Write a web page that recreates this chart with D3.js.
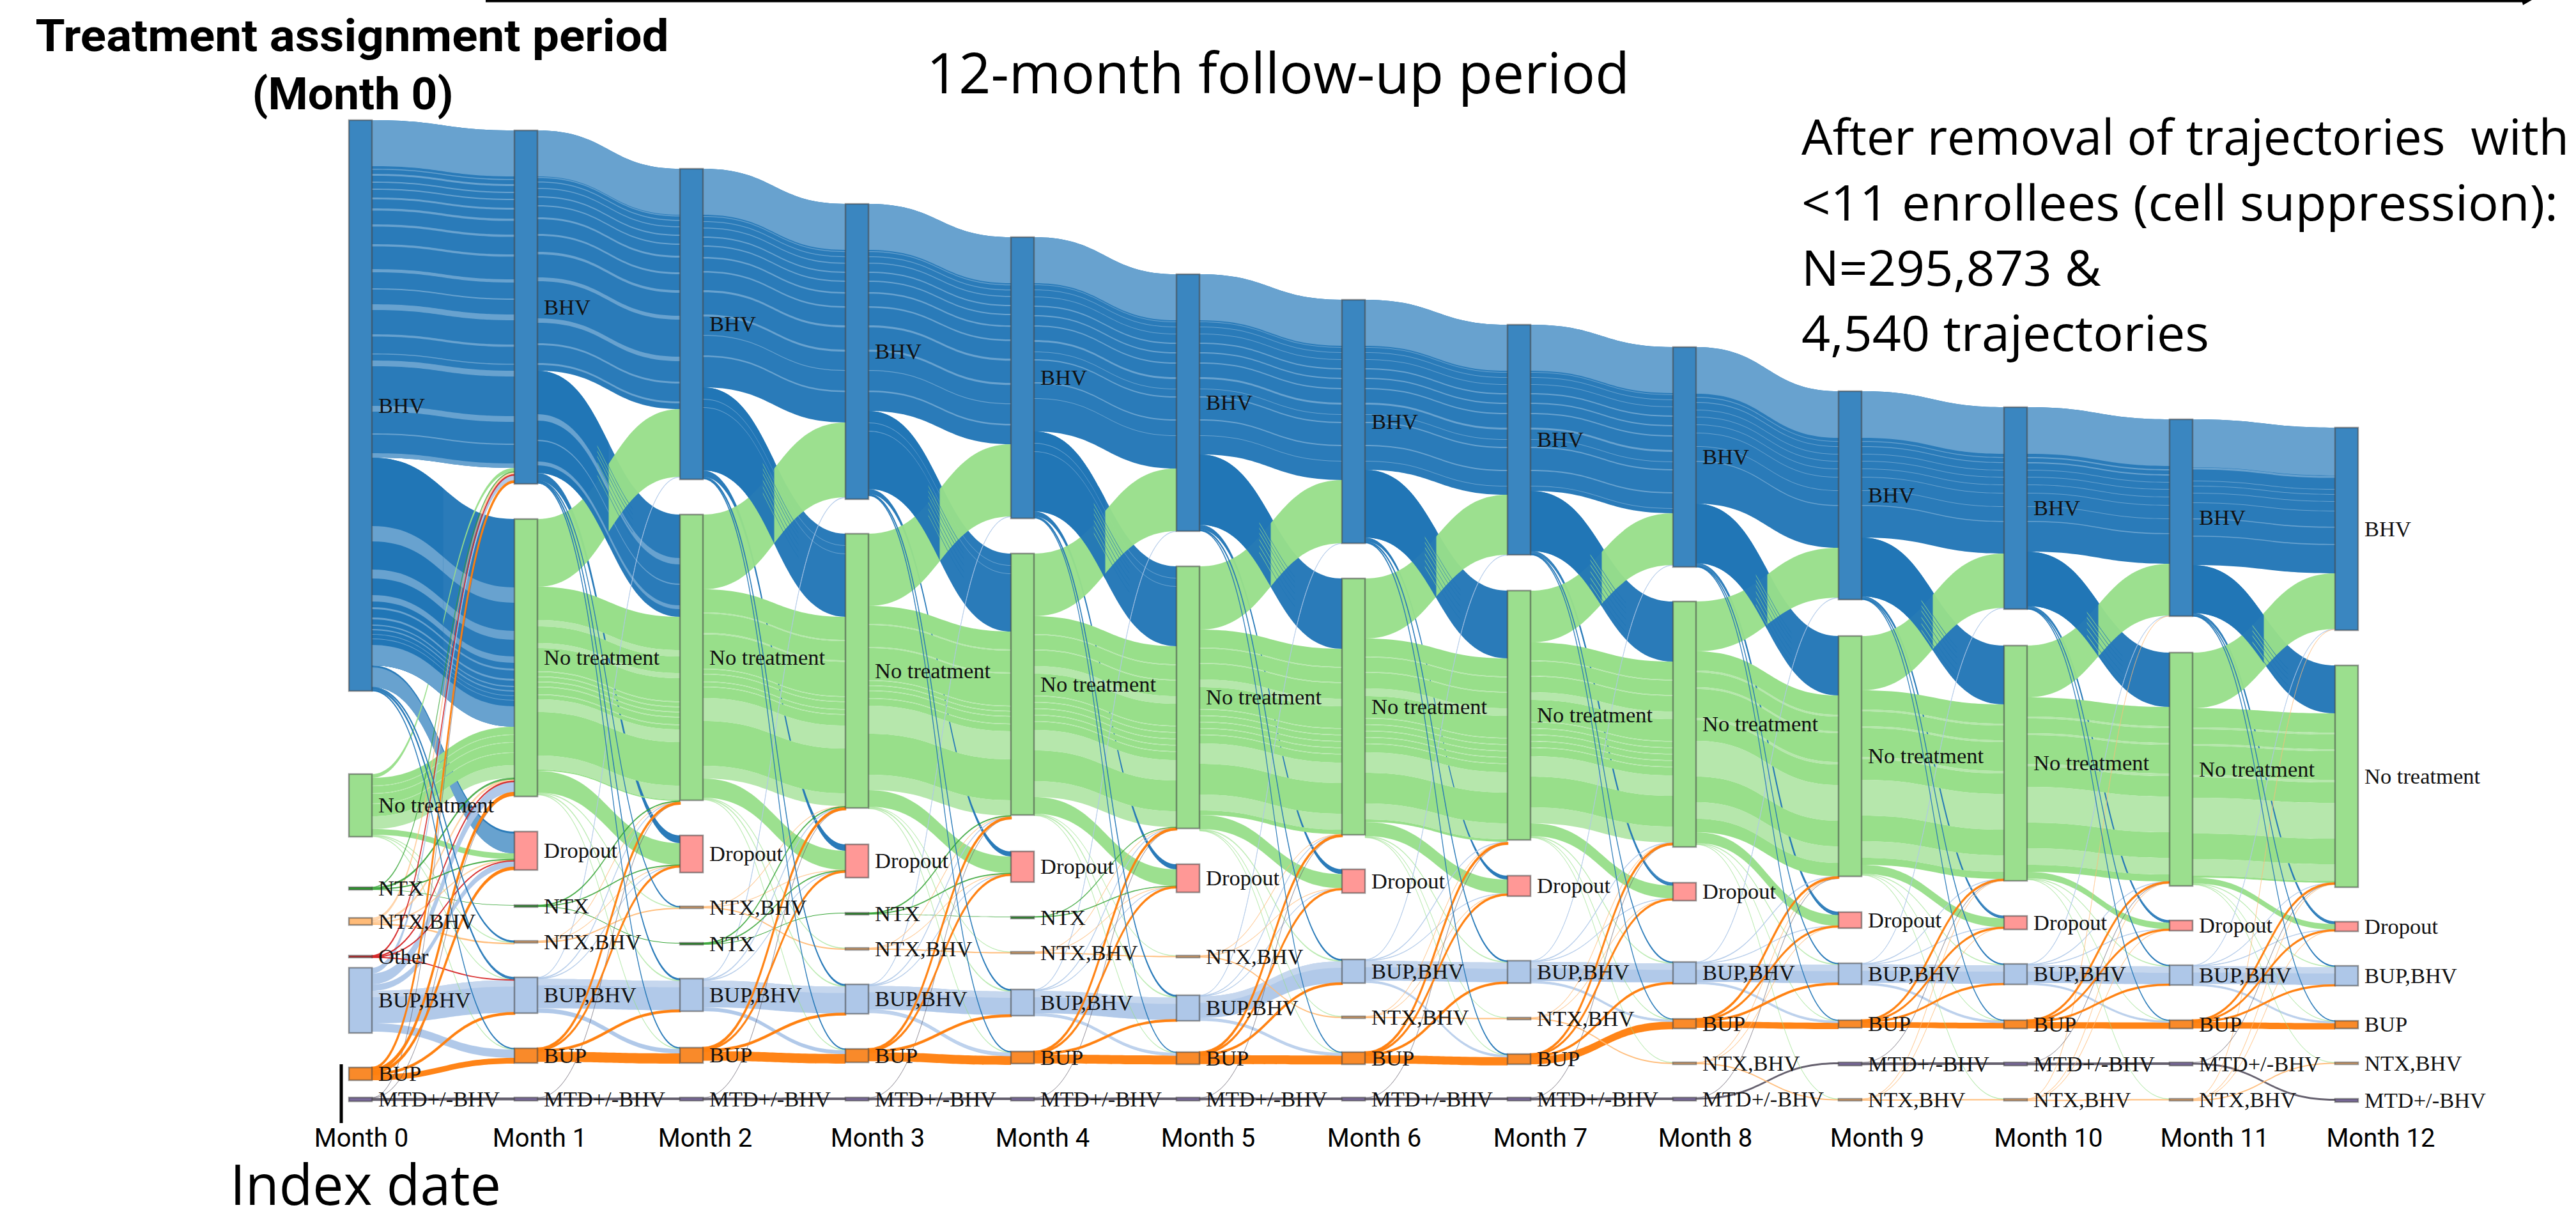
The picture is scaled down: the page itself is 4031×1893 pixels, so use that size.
<!DOCTYPE html>
<html>
<head>
<meta charset="utf-8">
<script src="https://cdn.jsdelivr.net/npm/d3@7"></script>
<style>
  body { margin: 0; background: #fff; }
  svg { display: block; }
  text { white-space: pre; }
</style>
</head>
<body>
<div id="chart"></div>
<script>
// All flow values below are thousands of enrollees
const months = ["Month 0", "Month 1", "Month 2", "Month 3", "Month 4", "Month 5", "Month 6",
    "Month 7", "Month 8", "Month 9", "Month 10", "Month 11", "Month 12"];

const categories = ["BHV", "No treatment", "Dropout", "NTX", "NTX,BHV", "Other", "BUP,BHV", "BUP", "MTD+/-BHV"];

// node start along the vertical value axis
const bhvStart = [47, 51, 66, 79.75, 92.75, 107.25, 117.25, 127, 135.75, 153, 159.25, 164, 167.25];
const noneStart = [302.75, 203, 201.25, 208.75, 216.5, 221.5, 226.25, 231, 235.25, 248.75, 252.5, 255.25, 260.25];
const dropoutStart = [null, 325.25, 326.75, 330.25, 333, 338, 340, 342.5, 345.25, 356.75, 358.25, 360, 360.5];
const ntxStart = [347, 354, 368.75, 357, 358.5, null, null, null, null, null, null, null, null];
const ntxBhvStart = [359, 368, 354.5, 370.75, 372.25, 373.75, 397.5, 398, 415.5, 429.75, 429.75, 429.75, 415.5];
const otherStart = [373.75, null, null, null, null, null, null, null, null, null, null, null, null];
const bupBhvStart = [378.5, 382.25, 382.75, 385, 387, 389.25, 375.25, 375.75, 376.25, 376.75, 377, 377.5, 377.75];
const bupStart = [417.5, 410, 409.75, 410.25, 411.25, 411.5, 411.5, 412.25, 398.5, 399, 399, 399, 399.25];
const mtdStart = [429.25, 429.25, 429.25, 429.25, 429.25, 429.25, 429.25, 429.25, 429.25, 415.5, 415.5, 415.5, 429.75];

// node totals per month
const bhvTotal = [223.25, 138.25, 121.5, 115.5, 110, 100.5, 95.25, 90, 86, 81.5, 79, 77, 79.25];
const noneTotal = [24.5, 108.5, 111.75, 107.25, 102.25, 102.5, 100.25, 97.5, 96, 94, 92, 91.25, 86.75];
const dropoutTotal = [0, 15, 14.5, 13, 12, 11, 9.25, 8, 7, 6.25, 5.25, 4, 3.75];
const ntxTotal = [1, 0.75, 0.75, 0.75, 0.75, 0, 0, 0, 0, 0, 0, 0, 0];
const ntxBhvTotal = [2.75, 0.75, 0.75, 0.75, 0.75, 0.75, 0.75, 0.75, 0.75, 0.75, 0.75, 0.75, 0.75];
const otherTotal = [0.75, 0, 0, 0, 0, 0, 0, 0, 0, 0, 0, 0, 0];
const bupBhvTotal = [25.5, 14, 12.75, 11.5, 10.25, 10, 9.25, 8.75, 8.5, 8.25, 8, 7.75, 7.75];
const bupTotal = [5, 5.75, 6, 5.25, 4.75, 4.75, 4.75, 4, 3.75, 3, 3.25, 3.25, 3];
const mtdTotal = [1.5, 1.25, 1.25, 1.25, 1.25, 1.25, 1.25, 1.25, 1.25, 1.25, 1.25, 1.25, 1.25];

// month to month flows, one value per transition
const bhvToBhv = [132, 94, 85.5, 81, 76, 70.5, 66.5, 65, 61.25, 57.25, 56.5, 57];
const bhvToNone = [81.25, 40, 32.5, 30.5, 31.25, 27.5, 26.5, 23.5, 23.25, 23, 21.25, 18.75];
const bhvToDropout = [8.5, 3, 2.5, 2, 2, 1.875, 1.5, 1.125, 1.125, 0.875, 0.875, 0.875];
const bhvToBupBhv = [0.75, 0.5, 0.5, 0.375, 0.5, 0.375, 0.375, 0.25, 0.25, 0.25, 0.25, 0.25];
const bhvToBup = [0.25, 0.25, 0.25, 0.25, 0.125, 0.125, 0.25, 0.125, 0.125, 0.125, 0.125, 0.125];
const bhvToNtxBhv = [0.5, 0.25, 0, 0, 0, 0, 0, 0, 0, 0, 0, 0];

const noneToBhv = [1.5, 26.5, 29.25, 28.25, 24.5, 24.75, 23.5, 20.25, 19.5, 21.25, 20.25, 21.75];
const noneToNone = [20, 72, 74, 72, 70.75, 72.5, 71.75, 70.75, 70.75, 68.25, 68.25, 66.25];
const noneToDropout = [2.25, 8.5, 7.5, 6.5, 6.5, 5.5, 5.5, 5, 4.25, 3.5, 2.5, 2.25];
const noneToBupBhv = [0.25, 0.4, 0.4, 0.4, 0.4, 0.4, 0.3, 0.3, 0.3, 0.25, 0.25, 0.25];
const noneToBup = [0.25, 0.25, 0.25, 0.25, 0.2, 0.2, 0.2, 0.2, 0.15, 0.15, 0.15, 0.15];
const noneToNtxBhv = [0.25, 0.3, 0.25, 0.15, 0.15, 0.15, 0.15, 0.15, 0.15, 0.15, 0.15, 0.15];

const bupBhvToBhv = [2.25, 0.15, 0.2, 0.15, 0.15, 0.1, 0.15, 0.1, 0.15, 0.1, 0.15, 0.1];
const bupBhvToNone = [4.25, 0.3, 0.35, 0.3, 0.25, 0.2, 0.25, 0.25, 0.25, 0.2, 0.2, 0.15];
const bupBhvToDropout = [2.5, 0.2, 0.2, 0.2, 0.15, 0.15, 0.15, 0.15, 0.15, 0.15, 0.15, 0.15];
const bupBhvToBupBhv = [12.75, 11.5, 10.5, 9.25, 8.75, 8.5, 7.75, 7.5, 7.25, 7.25, 7, 7];
const bupBhvToBup = [3.25, 1.75, 1.5, 1.25, 1, 1, 0.75, 0.75, 0.75, 0.75, 0.625, 0.625];

const bupToBhv = [0.5, 0, 0, 0, 0, 0, 0, 0, 0, 0, 0, 0];
const bupToNone = [1, 0.5, 0.6, 0.5, 0.5, 0.5, 0.5, 0.4, 0.4, 0.3, 0.3, 0.3];
const bupToDropout = [0.75, 0.3, 0.3, 0.3, 0.3, 0.3, 0.3, 0.25, 0.25, 0.2, 0.2, 0.2];
const bupToBupBhv = [0.5, 0.5, 0.5, 0.5, 0.4, 0.4, 0.4, 0.375, 0.375, 0.25, 0.25, 0.25];
const bupToBup = [2.25, 4, 3.75, 3.5, 3.5, 3.5, 3.25, 3, 2.5, 2.25, 2.5, 2.5];

const ntxToBhv = [0.125, 0, 0, 0, 0, 0, 0, 0, 0, 0, 0, 0];
const ntxToNone = [0.5, 0.25, 0.25, 0.25, 0.125, 0, 0, 0, 0, 0, 0, 0];
const ntxToDropout = [0.25, 0.2, 0.2, 0.2, 0.125, 0, 0, 0, 0, 0, 0, 0];
const ntxToNtx = [0.2, 0.25, 0.25, 0.2, 0, 0, 0, 0, 0, 0, 0, 0];

const ntxBhvToBhv = [1, 0, 0, 0, 0, 0, 0, 0, 0, 0, 0.1, 0.1];
const ntxBhvToNone = [0.75, 0.15, 0.15, 0.15, 0.15, 0.15, 0.15, 0.15, 0.15, 0.15, 0.15, 0.15];
const ntxBhvToDropout = [0.375, 0.125, 0.125, 0.125, 0.125, 0.125, 0.125, 0.125, 0.125, 0.125, 0.125, 0.125];
const ntxBhvToNtxBhv = [0.6, 0.5, 0.5, 0.5, 0.5, 0.5, 0.5, 0.5, 0.5, 0.5, 0.5, 0.5];

const otherToBhv = [0.25, 0, 0, 0, 0, 0, 0, 0, 0, 0, 0, 0];
const otherToNone = [0.25, 0, 0, 0, 0, 0, 0, 0, 0, 0, 0, 0];
const otherToDropout = [0.15, 0, 0, 0, 0, 0, 0, 0, 0, 0, 0, 0];
const otherToBupBhv = [0.1, 0, 0, 0, 0, 0, 0, 0, 0, 0, 0, 0];

const mtdToBhv = [0.1, 0, 0, 0, 0, 0, 0, 0, 0, 0, 0, 0];
const mtdToNone = [0.1, 0.1, 0.1, 0.1, 0.1, 0.1, 0.1, 0.1, 0.1, 0.1, 0.1, 0.1];
const mtdToMtd = [1.1, 1, 1, 1, 1, 1, 1, 1, 0.75, 1, 1, 0.75];

// lighter trajectories inside the big flows: [offset in flow, size]
const bhvStay0 = [[0, 18], [19, 0.4], [21, 0.75], [24, 0.5], [26.75, 0.5], [30.25, 0.75], [34.5, 0.9], [40.75, 0.9], [48.5, 0.9], [58.25, 1.25], [65.75, 0.5], [72, 2.25], [83.75, 0.9], [91.25, 0.4], [94, 2.25], [111.75, 2.25], [122.5, 0.5], [130.25, 1.75]];
const bhvStay1 = [[0, 18], [18.25, 0.4], [20, 0.4], [22.5, 0.4], [25.75, 0.5], [29.25, 0.5], [34, 0.75], [40.5, 0.75], [47.5, 1], [57.5, 1.5], [73.5, 1.75], [83.25, 0.75], [91, 0.75]];
const bhvStay2 = [[0, 18], [18.5, 0.3], [20.5, 0.3], [23, 0.4], [26.5, 0.5], [30, 0.5], [34.5, 0.6], [40, 0.6], [47.5, 0.8], [57, 0.8], [65, 0.3], [73, 0.6]];
const bhvStay4 = [[0, 18], [18.5, 0.25], [20.5, 0.25], [23.25, 0.25], [26.75, 0.5], [30.5, 0.5], [34.5, 0.5], [40.25, 0.75], [44.75, 0.25], [47.75, 0.5], [56.75, 0.5], [63, 0.25]];
const bhvStay8 = [[0, 18.25], [19.5, 0.3], [21.5, 0.3], [24.5, 0.25], [27.25, 0.25], [30.25, 0.25], [33.5, 0.25], [38.75, 0.25], [44.5, 0.4]];
const bhvStay10 = [[0, 18.25], [19.5, 0.5], [21.5, 0.5], [24.5, 0.25], [27.25, 0.25], [30.25, 0.25], [33.5, 0.25], [38.75, 0.25], [44.5, 0.4]];
const bhvStay11 = [[0, 18.75], [18.9, 0.75], [24, 0.25], [26, 0.25], [28.75, 0.25], [32.5, 0.25], [38.75, 0.4], [45.5, 0.4]];
const bhvLeave0 = [[26.75, 6], [43.75, 3.5], [53.75, 2.5], [58.5, 0.75], [62.5, 0.75], [65.25, 0.5], [67, 0.5], [69, 0.25], [70.75, 0.25], [73.25, 8]];
const bhvLeave1 = [[17, 2.5], [27, 0.5], [35.5, 1.5]];
const bhvLeave2 = [[4.5, 0.25], [7.75, 0.25]];
const dropoutLeave0 = [[0.75, 7.75]];
const noneStay0 = [[3, 0.25], [6, 0.25], [10, 0.25], [15, 5]];
const noneStay1 = [[13, 2.5], [22, 2], [33, 0.4], [35, 0.4], [37, 0.4], [39, 0.4], [42, 0.4], [44, 5], [66, 5.5]];
const noneStay2 = [[9, 0.5], [17, 0.6], [31, 0.3], [33, 0.3], [36, 0.3], [38, 0.3], [42.5, 9], [69, 5]];
const noneStay3 = [[7, 0.5], [16, 0.5], [29, 0.3], [31, 0.3], [33, 0.3], [36, 0.3], [39, 11], [66, 6]];
const noneStay4 = [[7, 0.4], [13, 0.4], [19.5, 3], [31, 0.3], [33.5, 0.3], [36, 0.3], [38.5, 0.3], [41, 0.3], [44.5, 8], [64.5, 6.25]];
const noneStay8 = [[7.5, 0.75], [14, 0.75], [26, 1], [35, 14], [59, 6.5]];
const bupBhvStay = [[0, 2.5]];

const bhvStayBands = [bhvStay0, bhvStay1, bhvStay2, bhvStay2, bhvStay4, bhvStay4, bhvStay4, bhvStay4, bhvStay8, bhvStay8, bhvStay10, bhvStay11];
const bhvLeaveBands = [bhvLeave0, bhvLeave1, bhvLeave2, bhvLeave2, bhvLeave2, [], [], [], [], [], [], []];
const dropoutBands = [dropoutLeave0, [], [], [], [], [], [], [], [], [], [], []];
const noneStayBands = [noneStay0, noneStay1, noneStay2, noneStay3, noneStay4, noneStay4, noneStay4, noneStay4, noneStay8, noneStay8, noneStay8, noneStay8];
const bupBhvBands = months.slice(1).map(() => bupBhvStay);

// small strands of the crossing flows, offset inside the BHV to No treatment flow
const crossingStrands = [9, 11, 13, 15.5, 18, 20.5];

// Layout
const width = 4031, height = 1893;
const nodeWidth = 36;
const x = d3.scalePoint().domain(months).range([546, 3654]);
const y = d3.scaleLinear().domain([0, 473.25]).range([0, height]);
const size = v => y(v) - y(0);

const color = d3.scaleOrdinal()
    .domain(categories)
    .range(["#2176b6", "#98df8a", "#ff9896", "#2ca02c", "#ffbb78", "#d62728", "#aec7e8", "#ff7f0e", "#5f5a68"]);
const nodeColor = d3.scaleOrdinal()
    .domain(categories)
    .range(["#3a86c0", "#9bdf8e", "#ff9896", "#2ca02c", "#ffbb78", "#d62728", "#aec7e8", "#f98a2a", "#7a6a9b"]);
const bandColor = { "BHV": "#68a2cf", "No treatment": "#b6e7ac", "BUP,BHV": "#c6d7ee" };
const thinStroke = { "BUP": 2.5, "BHV": 1.2, "No treatment": 0.6, "BUP,BHV": 0.9, "NTX,BHV": 0.8, "NTX": 1.2, "Other": 1.5, "MTD+/-BHV": 0.7 };
const thinOpacity = { "BUP": 0.95, "BHV": 0.9, "No treatment": 0.6, "BUP,BHV": 0.8, "NTX,BHV": 0.6, "NTX": 0.7, "Other": 0.9, "MTD+/-BHV": 0.5 };

const nodeStart = { "BHV": bhvStart, "No treatment": noneStart, "Dropout": dropoutStart, "NTX": ntxStart, "NTX,BHV": ntxBhvStart, "Other": otherStart, "BUP,BHV": bupBhvStart, "BUP": bupStart, "MTD+/-BHV": mtdStart };
const nodeTotal = { "BHV": bhvTotal, "No treatment": noneTotal, "Dropout": dropoutTotal, "NTX": ntxTotal, "NTX,BHV": ntxBhvTotal, "Other": otherTotal, "BUP,BHV": bupBhvTotal, "BUP": bupTotal, "MTD+/-BHV": mtdTotal };

// order matters: first ones are painted first
const flowTable = [
    ["BHV", "Dropout", bhvToDropout, dropoutBands],
    ["BHV", "BHV", bhvToBhv, bhvStayBands],
    ["No treatment", "No treatment", noneToNone, noneStayBands],
    ["BUP,BHV", "BUP,BHV", bupBhvToBupBhv, bupBhvBands],
    ["BUP", "BUP", bupToBup],
    ["MTD+/-BHV", "MTD+/-BHV", mtdToMtd],
    ["BHV", "No treatment", bhvToNone, bhvLeaveBands],
    ["No treatment", "BHV", noneToBhv],
    ["BUP,BHV", "BUP", bupBhvToBup],
    ["No treatment", "Dropout", noneToDropout],
    ["NTX,BHV", "NTX,BHV", ntxBhvToNtxBhv],
    ["NTX", "NTX", ntxToNtx],
    ["No treatment", "BUP,BHV", noneToBupBhv],
    ["No treatment", "BUP", noneToBup],
    ["No treatment", "NTX,BHV", noneToNtxBhv],
    ["BUP,BHV", "BHV", bupBhvToBhv],
    ["BUP,BHV", "No treatment", bupBhvToNone],
    ["BUP,BHV", "Dropout", bupBhvToDropout],
    ["NTX,BHV", "BHV", ntxBhvToBhv],
    ["NTX,BHV", "No treatment", ntxBhvToNone],
    ["NTX,BHV", "Dropout", ntxBhvToDropout],
    ["NTX", "BHV", ntxToBhv],
    ["NTX", "No treatment", ntxToNone],
    ["NTX", "Dropout", ntxToDropout],
    ["Other", "BHV", otherToBhv],
    ["Other", "No treatment", otherToNone],
    ["Other", "Dropout", otherToDropout],
    ["Other", "BUP,BHV", otherToBupBhv],
    ["MTD+/-BHV", "BHV", mtdToBhv],
    ["MTD+/-BHV", "No treatment", mtdToNone],
    ["BUP", "BHV", bupToBhv],
    ["BUP", "No treatment", bupToNone],
    ["BUP", "Dropout", bupToDropout],
    ["BUP", "BUP,BHV", bupToBupBhv],
    ["BHV", "BUP,BHV", bhvToBupBhv],
    ["BHV", "BUP", bhvToBup],
    ["BHV", "NTX,BHV", bhvToNtxBhv]
];

// one record per link, with its stack position at both ends
const links = [];
flowTable.forEach(([from, to, values, bands], order) => {
    values.forEach((value, t) => {
        if (value > 0) links.push({ from, to, value, t, order, bands: bands ? bands[t] : [] });
    });
});

months.slice(0, -1).forEach((m, t) => {
    const here = links.filter(l => l.t === t);
    d3.groups(here, l => l.from).forEach(([name, out]) => {
        let pos = nodeStart[name][t];
        out.sort((a, b) => d3.ascending(nodeStart[a.to][t + 1], nodeStart[b.to][t + 1]))
            .forEach(l => { l.sy = pos; pos += l.value; });
    });
    d3.groups(here, l => l.to).forEach(([name, inc]) => {
        let pos = nodeStart[name][t + 1];
        inc.sort((a, b) => d3.ascending(nodeStart[a.from][t], nodeStart[b.from][t]))
            .forEach(l => { l.ty = pos; pos += l.value; });
    });
});

const ribbon = d3.area().curve(d3.curveBumpX)
    .x(d => d.x).y0(d => d.y0).y1(d => d.y1);

function ribbonPath(l, offset, amount) {
    const x0 = x(months[l.t]) + nodeWidth, x1 = x(months[l.t + 1]);
    return ribbon([
        { x: x0, y0: y(l.sy + offset), y1: y(l.sy + offset + amount) },
        { x: x1, y0: y(l.ty + offset), y1: y(l.ty + offset + amount) }
    ]);
}

const svg = d3.select("#chart").append("svg").attr("width", width).attr("height", height);

function drawBands(parent, l) {
    l.bands.filter(b => b[0] < l.value).forEach(b => {
        parent.append("path")
            .attr("d", ribbonPath(l, b[0], Math.min(b[1], l.value - b[0])))
            .attr("fill", bandColor[l.from]);
    });
}

function drawLink(parent, l) {
    const path = parent.append("path").attr("d", ribbonPath(l, 0, l.value))
        .attr("fill", color(l.from)).attr("fill-opacity", 0.96);
    // arcs this thin need a hairline or they vanish where they run steep
    if (l.value < 1.5 && l.from !== l.to) {
        path.attr("fill-opacity", thinOpacity[l.from])
            .attr("stroke", color(l.from)).attr("stroke-opacity", thinOpacity[l.from])
            .attr("stroke-width", thinStroke[l.from]);
    }
    drawBands(parent, l);
}

// the solid parts of a flow between its lighter bands, strands under it show through those
function drawSolidParts(parent, l) {
    let pos = 0;
    l.bands.forEach(b => {
        if (b[0] > pos) {
            parent.append("path").attr("d", ribbonPath(l, pos, b[0] - pos)).attr("fill", color(l.from));
        }
        pos = b[0] + b[1];
    });
    if (pos < l.value) {
        parent.append("path").attr("d", ribbonPath(l, pos, l.value - pos)).attr("fill", color(l.from));
    }
}

links.sort((a, b) => d3.ascending(a.order, b.order));

const linkLayer = svg.append("g");
const defs = svg.append("defs");
months.slice(0, -1).forEach((m, t) => {
    const x0 = x(m) + nodeWidth, x1 = x(months[t + 1]);
    const step = x1 - x0, mid = x0 + step / 2;
    defs.append("clipPath").attr("id", "leftHalf" + t)
        .append("rect").attr("x", x0).attr("y", 0).attr("width", step / 2).attr("height", height);
    defs.append("clipPath").attr("id", "leftEdge" + t)
        .append("rect").attr("x", mid - step * 0.08).attr("y", 0).attr("width", step * 0.08).attr("height", height);
    defs.append("clipPath").attr("id", "rightEdge" + t)
        .append("rect").attr("x", mid).attr("y", 0).attr("width", step * 0.17).attr("height", height);
});

// lighter No treatment bands go first so BHV strands stay visible through them
links.filter(l => l.from === "No treatment" && l.to === "No treatment")
    .forEach(l => drawBands(linkLayer, l));

flowTable.forEach(([from, to], order) => {
    links.filter(l => l.order === order).forEach(l => {
        if (from === "No treatment" && to === "No treatment") drawSolidParts(linkLayer, l);
        else drawLink(linkLayer, l);
    });
    // blue leaving BHV shows over the green coming back on the left half of each crossing
    if (from === "No treatment" && to === "BHV") {
        const leaving = links.filter(l => l.from === "BHV" && l.to === "No treatment");
        leaving.forEach(l => {
            drawLink(linkLayer.append("g").attr("clip-path", `url(#leftHalf${l.t})`), l);
        });
        leaving.filter(l => l.t > 0).forEach(l => {
            const blue = linkLayer.append("g").attr("clip-path", `url(#rightEdge${l.t})`);
            const green = linkLayer.append("g").attr("clip-path", `url(#leftEdge${l.t})`);
            crossingStrands.filter(s => s < l.value).forEach(s => {
                blue.append("path").attr("d", ribbonPath(l, s, 0.3)).attr("fill", color("BHV"));
                green.append("path").attr("d", ribbonPath(l, s + 1, 0.3)).attr("fill", color("No treatment"));
            });
        });
    }
});

// nodes and their labels
const nodes = [];
categories.forEach(name => {
    months.forEach((m, i) => {
        if (nodeStart[name][i] !== null) nodes.push({ name, month: m, start: nodeStart[name][i], total: nodeTotal[name][i] });
    });
});

svg.append("g").selectAll("rect").data(nodes).join("rect")
    .attr("x", d => x(d.month))
    .attr("y", d => y(d.start))
    .attr("width", nodeWidth)
    .attr("height", d => size(d.total))
    .attr("fill", d => nodeColor(d.name))
    .attr("stroke", "#444")
    .attr("stroke-opacity", 0.55)
    .attr("stroke-width", 2.5);

svg.append("g").selectAll("text").data(nodes).join("text")
    .attr("x", d => x(d.month) + nodeWidth + 10)
    .attr("y", d => y(d.start + d.total / 2))
    .attr("dy", "0.33em")
    .attr("font-family", "Liberation Serif")
    .attr("font-size", 34.5)
    .attr("fill", "#111")
    .text(d => d.name);

// month axis, labels sit a bit right of their columns
const monthLabelShift = [1, 21, 21, 32, 31, 31, 32, 33, 32, 42, 51, 52, 53];
const axis = svg.append("g")
    .attr("transform", `translate(${nodeWidth / 2},1794)`)
    .call(d3.axisBottom(x).tickSize(0));
axis.select(".domain").remove();
axis.selectAll(".tick text")
    .attr("y", 0).attr("dy", 0)
    .attr("dx", (d, i) => monthLabelShift[i])
    .attr("font-family", "Roboto")
    .attr("font-size", 40)
    .attr("fill", "#000");

// annotations
function note(str, px, py, fontSize, opts = {}) {
    const t = svg.append("text").attr("x", px).attr("y", py)
        .attr("font-family", opts.family || "Open Sans")
        .attr("font-size", fontSize)
        .attr("font-weight", opts.weight || 400)
        .attr("text-anchor", opts.anchor || "start")
        .attr("fill", "#000")
        .text(str);
    if (opts.fit) t.attr("textLength", opts.fit).attr("lengthAdjust", "spacingAndGlyphs");
    return t;
}

note("Treatment assignment period", 551, 80, 70, { family: "Roboto", weight: 700, anchor: "middle", fit: 991 });
note("(Month 0)", 552, 171, 70, { family: "Roboto", weight: 700, anchor: "middle", fit: 315 });
note("12-month follow-up period", 1450, 146, 88, { fit: 1100 });
note("After removal of trajectories  with", 2819, 242, 76, { fit: 1201 });
note("<11 enrollees (cell suppression):", 2819, 345, 76, { fit: 1184 });
note("N=295,873 &", 2819, 447, 76, { fit: 469 });
note("4,540 trajectories", 2819, 549, 76, { fit: 638 });
note("Index date", 360, 1885, 87, { fit: 424 });

svg.append("line").attr("x1", 760).attr("x2", 3955).attr("y1", 1).attr("y2", 1)
    .attr("stroke", "#000").attr("stroke-width", 5);
svg.append("path").attr("d", d3.line()([[3946, 0], [3962, 0], [3948, 8]])).attr("fill", "#000");
svg.append("line").attr("x1", 534).attr("x2", 534).attr("y1", 1665).attr("y2", 1757)
    .attr("stroke", "#000").attr("stroke-width", 5);
</script>
</body>
</html>
